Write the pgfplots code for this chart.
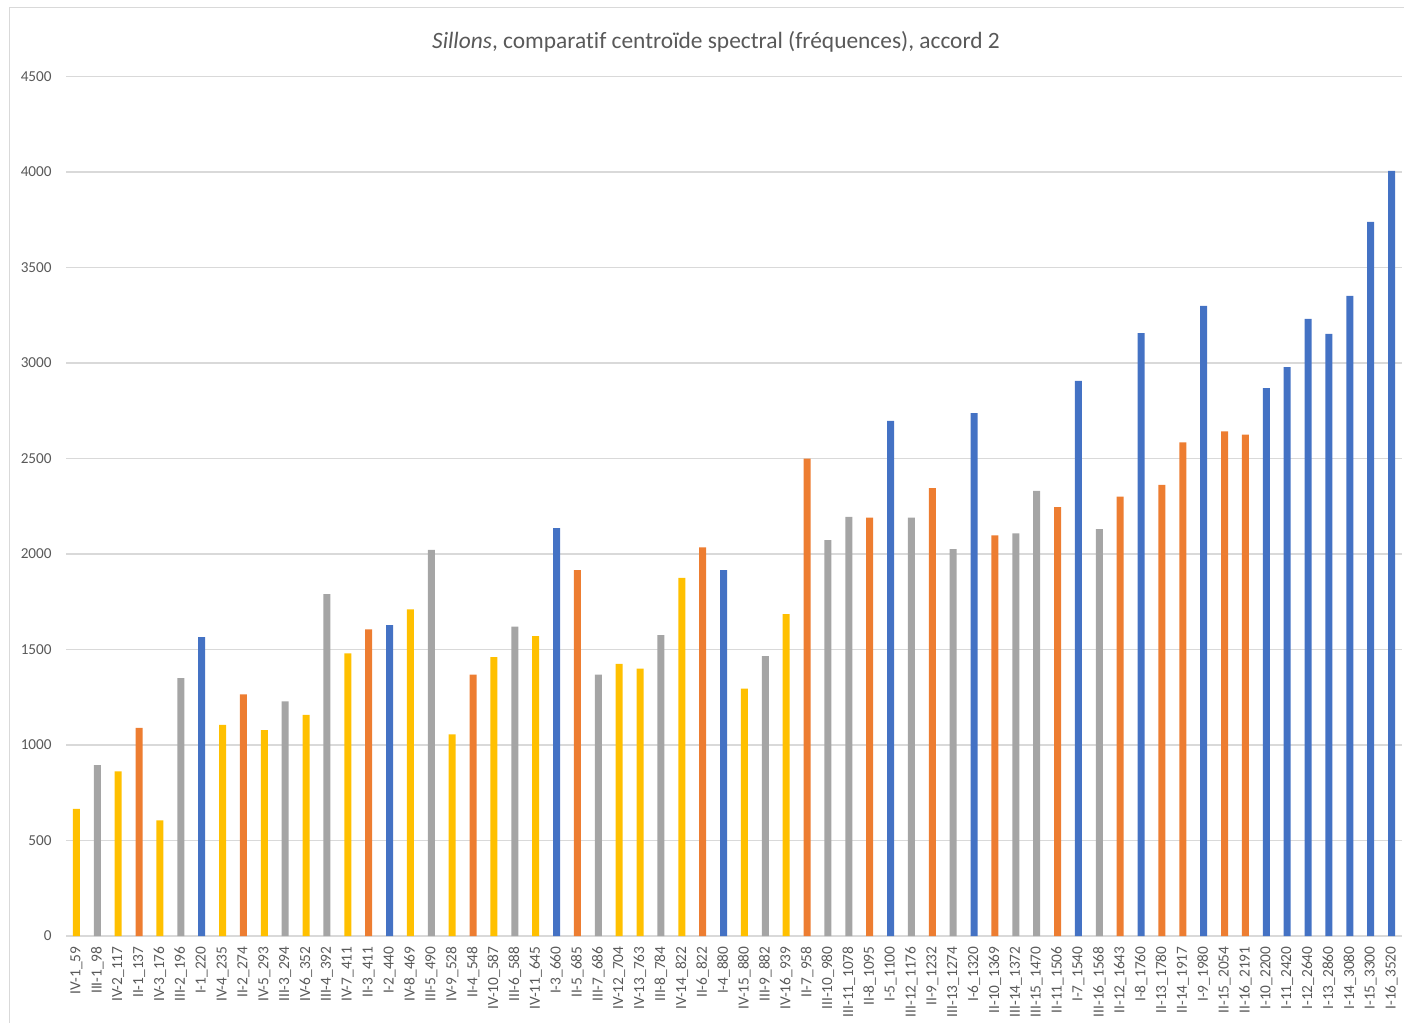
\documentclass[border=0pt]{standalone}
\usepackage{pgfplots}
\pgfplotsset{compat=1.18}
\usepackage{fontspec}
\setmainfont{Carlito}[Ligatures={NoCommon}]
\definecolor{cBlue}{HTML}{4472C4}
\definecolor{cOrange}{HTML}{ED7D31}
\definecolor{cGray}{HTML}{A5A5A5}
\definecolor{cYellow}{HTML}{FFC000}
\definecolor{cText}{HTML}{595959}
\definecolor{cGrid}{HTML}{D9D9D9}
\begin{document}
\begin{tikzpicture}
\path[use as bounding box] (-33bp,-43.5bp) rectangle (669bp,468bp);
\draw[cGrid, line width=0.75bp] (-28.25bp,-43.5bp) -- (-28.25bp,464.25bp) -- (669bp,464.25bp);
\begin{axis}[
  at={(0,0)}, anchor=south west,
  scale only axis,
  width=668bp, height=429.75bp,
  xmin=-0.5, xmax=63.5,
  ymin=0, ymax=4500,
  ytick={0,500,...,4500},
  xtick={0,...,63},
  xticklabels={IV-1\_59,III-1\_98,IV-2\_117,II-1\_137,IV-3\_176,III-2\_196,I-1\_220,IV-4\_235,II-2\_274,IV-5\_293,III-3\_294,IV-6\_352,III-4\_392,IV-7\_411,II-3\_411,I-2\_440,IV-8\_469,III-5\_490,IV-9\_528,II-4\_548,IV-10\_587,III-6\_588,IV-11\_645,I-3\_660,II-5\_685,III-7\_686,IV-12\_704,IV-13\_763,III-8\_784,IV-14\_822,II-6\_822,I-4\_880,IV-15\_880,III-9\_882,IV-16\_939,II-7\_958,III-10\_980,III-11\_1078,II-8\_1095,I-5\_1100,III-12\_1176,II-9\_1232,III-13\_1274,I-6\_1320,II-10\_1369,III-14\_1372,III-15\_1470,II-11\_1506,I-7\_1540,III-16\_1568,II-12\_1643,I-8\_1760,II-13\_1780,II-14\_1917,I-9\_1980,II-15\_2054,II-16\_2191,I-10\_2200,I-11\_2420,I-12\_2640,I-13\_2860,I-14\_3080,I-15\_3300,I-16\_3520},
  x tick label style={rotate=90, anchor=east, font=\fontsize{7.7bp}{8bp}\selectfont, text=cText, inner sep=0pt},
  y tick label style={font=\fontsize{7.6bp}{8bp}\selectfont, text=cText, inner sep=0pt},
  xticklabel shift=5bp,
  yticklabel shift=7bp,
  /pgf/number format/assume math mode=true,
  /pgf/number format/1000 sep={},
  major tick length=0pt,
  axis line style={draw=none},
  ymajorgrids,
  grid style={cGrid, line width=0.6bp},
  ybar, bar width=0.33, bar shift=0pt,
  clip=false,
]
\addplot[fill=cBlue, draw=none] coordinates {
(6,1565) (15,1628) (23,2136) (31,1916) (39,2697) (43,2738) (48,2906) (51,3157)
(54,3299) (57,2869) (58,2979) (59,3231) (60,3152) (61,3351) (62,3739) (63,4006)};
\addplot[fill=cOrange, draw=none] coordinates {
(3,1090) (8,1265) (14,1605) (19,1368) (24,1915) (30,2035) (35,2500) (38,2190)
(41,2345) (44,2098) (47,2245) (50,2300) (52,2362) (53,2585) (55,2642) (56,2625)};
\addplot[fill=cGray, draw=none] coordinates {
(1,895) (5,1350) (10,1228) (12,1790) (17,2022) (21,1620) (25,1368) (28,1575)
(33,1465) (36,2072) (37,2195) (40,2190) (42,2025) (45,2108) (46,2330) (49,2130)};
\addplot[fill=cYellow, draw=none] coordinates {
(0,665) (2,862) (4,605) (7,1105) (9,1078) (11,1158) (13,1480) (16,1710)
(18,1055) (20,1460) (22,1570) (26,1425) (27,1400) (29,1875) (32,1295) (34,1685)};
\end{axis}
\node[text=cText, font=\fontsize{11.7bp}{13bp}\selectfont] at (325bp,447bp) {\textit{Sillons}, comparatif centroïde spectral (fréquences), accord 2};
\end{tikzpicture}
\end{document}
